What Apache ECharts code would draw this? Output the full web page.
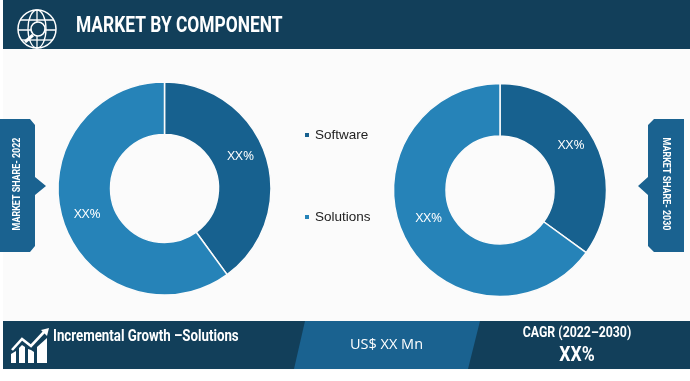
<!DOCTYPE html>
<html>
<head>
<meta charset="utf-8">
<style>
  html, body { margin: 0; padding: 0; background: #fff; }
  #main { width: 690px; height: 381px; }
</style>
<script src="https://cdn.jsdelivr.net/npm/echarts@6/dist/echarts.min.js"></script>
</head>
<body>
<div id="main"></div>
<script>
// values
var categories = ['Software', 'Solutions'];
var share2022 = [40, 60];
var share2030 = [35, 65];
var sliceLabel = 'XX%';

var titleText = 'MARKET BY COMPONENT';
var tagLeftText = 'MARKET SHARE- 2022';
var tagRightText = 'MARKET SHARE- 2030';
var growthText = 'Incremental Growth \u2013Solutions';
var marketText = 'US$ XX Mn';
var cagrText = 'CAGR (2022\u20132030)';
var cagrValue = 'XX%';

var dark = '#123f5a';
var mid = '#1a6290';
var colorList = ['#17618f', '#2683b8'];

var chart = echarts.init(document.getElementById('main'));

function pieData(values, softOffset, solOffset) {
    return categories.map(function (name, i) {
        return {
            name: name,
            value: values[i],
            label: { offset: i === 0 ? softOffset : solOffset }
        };
    });
}

function pieSeries(center, values, softOffset, solOffset) {
    return {
        type: 'pie',
        center: center,
        radius: [54, 106.5],
        startAngle: 90,
        clockwise: true,
        silent: true,
        data: pieData(values, softOffset, solOffset),
        label: {
            show: true,
            position: 'inside',
            formatter: sliceLabel,
            color: '#fff',
            fontFamily: 'Open Sans',
            fontSize: 13.5
        },
        labelLine: { show: false },
        itemStyle: { borderColor: '#fbfbfb', borderWidth: 1.5 }
    };
}

function poly(points, fill, z) {
    return { type: 'polygon', shape: { points: points }, style: { fill: fill }, z: z || 1 };
}

// condensed look: the narrow face is not installed so Roboto gets squeezed
function txt(x, y, text, size, squeeze, align) {
    return {
        type: 'text',
        x: x,
        y: y,
        scaleX: squeeze,
        z: 5,
        style: {
            text: text,
            fill: '#fff',
            fontFamily: 'Roboto',
            fontSize: size,
            fontWeight: 'bold',
            textAlign: align || 'left',
            textVerticalAlign: 'middle'
        }
    };
}

function stroke(shapeType, shape, width) {
    return {
        type: shapeType,
        shape: shape,
        z: 6,
        style: { stroke: '#fff', fill: 'transparent', lineWidth: width || 1.3 }
    };
}

function sideText(x, text, rotation) {
    return {
        type: 'text',
        x: x,
        y: 184,
        rotation: rotation,
        scaleX: 0.81,
        z: 5,
        style: {
            text: text,
            fill: '#fff',
            fontFamily: 'Roboto',
            fontSize: 11,
            fontWeight: 'bold',
            textAlign: 'center',
            textVerticalAlign: 'middle'
        }
    };
}

var decorations = [
    // background + banners
    { type: 'rect', shape: { x: 3, y: 0, width: 687, height: 370 }, style: { fill: '#fbfbfb' }, z: 0 },
    poly([[3, 0], [690, 0], [690, 49], [3, 49]], dark),
    poly([[3, 321], [690, 321], [690, 369], [3, 369]], dark),
    poly([[305, 321], [480, 321], [468, 369], [294, 369]], mid, 2),
    // side tags
    poly([[0, 119], [30, 119], [35, 125], [35, 177], [46, 186], [35, 195], [35, 246], [30, 252], [0, 252]], mid),
    poly([[654, 119], [684, 119], [684, 252], [654, 252], [648, 246], [648, 195], [638, 186], [648, 177], [648, 125]], mid),
    // globe icon
    stroke('circle', { cx: 37, cy: 29, r: 19 }, 1.5),
    stroke('ellipse', { cx: 37, cy: 29, rx: 9, ry: 19 }),
    stroke('line', { x1: 20, y1: 20, x2: 54, y2: 20 }),
    stroke('line', { x1: 18, y1: 30, x2: 56, y2: 30 }),
    stroke('line', { x1: 21, y1: 40, x2: 53, y2: 40 }),
    stroke('line', { x1: 37, y1: 10, x2: 37, y2: 48 }),
    { type: 'circle', shape: { cx: 38, cy: 29, r: 7 }, z: 7, style: { fill: dark, stroke: '#fff', lineWidth: 1.6 } },
    { type: 'line', shape: { x1: 33, y1: 35, x2: 25, y2: 42 }, z: 7, style: { stroke: '#fff', lineWidth: 3 } },
    // growth icon
    poly([[11, 363], [16, 363], [16, 351], [11, 354]], '#fff', 6),
    poly([[19, 363], [25, 363], [25, 347], [22, 345], [19, 348]], '#fff', 6),
    poly([[28, 363], [34, 363], [34, 352], [31, 350], [28, 349]], '#fff', 6),
    poly([[37, 363], [47, 363], [47, 338], [37, 347]], '#fff', 6),
    { type: 'polyline', shape: { points: [[12, 350], [22, 339], [31, 346], [44, 332]] }, z: 6,
      style: { stroke: '#fff', fill: 'transparent', lineWidth: 2.6 } },
    poly([[49, 328], [41, 330], [47, 336]], '#fff', 6),
    // banner text
    txt(76, 26, titleText, 22, 0.79),
    txt(53, 337, growthText, 16, 0.83),
    {
        type: 'text', x: 350, y: 345, z: 5,
        style: { text: marketText, fill: '#fff', fontFamily: 'Open Sans', fontSize: 14.5, textAlign: 'left', textVerticalAlign: 'middle' }
    },
    txt(577, 333, cagrText, 14, 0.88, 'center'),
    txt(577, 356, cagrValue, 20, 0.88, 'center'),
    // rotated tag text
    sideText(17, tagLeftText, Math.PI / 2),
    sideText(666, tagRightText, -Math.PI / 2)
];

var option = {
    backgroundColor: '#fff',
    animation: false,
    color: colorList,
    legend: {
        orient: 'vertical',
        left: 298,
        top: 123,
        itemWidth: 6,
        itemHeight: 6,
        itemGap: 68,
        icon: 'rect',
        selectedMode: false,
        data: categories,
        textStyle: { color: '#222', fontFamily: 'Liberation Sans', fontSize: 13.5 }
    },
    graphic: decorations,
    series: [
        pieSeries([164.5, 188.5], share2022, [-3, -7], [2, 0]),
        pieSeries([500, 190], share2030, [-3, -7], [3, -10])
    ]
};

chart.setOption(option);
</script>
</body>
</html>
